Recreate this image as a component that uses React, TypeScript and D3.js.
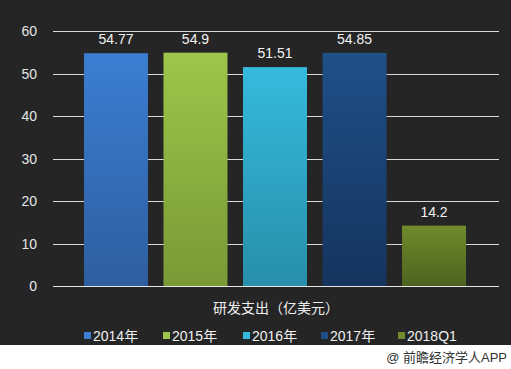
import React, { useEffect, useRef } from "react";
import { select, scaleBand, scaleLinear } from "d3";

const categories = ["2014年", "2015年", "2016年", "2017年", "2018Q1"];
const values = [54.77, 54.9, 51.51, 54.85, 14.2];
const valueLabels = ["54.77", "54.9", "51.51", "54.85", "14.2"];
const yTicks = [0, 10, 20, 30, 40, 50, 60];
const topColors = ["#3b7ed2", "#9dc64a", "#35badd", "#1f4f88", "#6f8b2b"];
const bottomColors = ["#2e5e9f", "#799936", "#278fa9", "#15345e", "#4c6320"];

const width = 511;
const height = 369;
const font = "'Liberation Sans', Arial, 'Noto Sans CJK SC', sans-serif";

export default function App() {
  const svgRef = useRef<SVGSVGElement>(null);

  useEffect(() => {
    const svg = select(svgRef.current);
    svg.selectAll("*").remove();

    const x = scaleBand<string>().domain(categories).range([76, 474]).paddingInner(0.195).paddingOuter(0.1);
    const y = scaleLinear().domain([0, 60]).range([286, 31]);

    const defs = svg.append("defs");
    categories.forEach((c, i) => {
      const g = defs
        .append("linearGradient")
        .attr("id", "grad" + i)
        .attr("x1", 0)
        .attr("y1", 0)
        .attr("x2", 0)
        .attr("y2", 1);
      g.append("stop").attr("offset", "0%").attr("stop-color", topColors[i]);
      g.append("stop").attr("offset", "100%").attr("stop-color", bottomColors[i]);
    });

    // background
    svg.append("rect").attr("width", width).attr("height", height).attr("fill", "#ffffff");
    svg.append("rect").attr("width", width).attr("height", 345).attr("fill", "#252525");

    // grid
    svg
      .append("g")
      .selectAll("line")
      .data(yTicks)
      .join("line")
      .attr("x1", 53)
      .attr("x2", 499)
      .attr("y1", (d) => Math.round(y(d)) + 0.5)
      .attr("y2", (d) => Math.round(y(d)) + 0.5)
      .attr("stroke", (d) => (d === 0 ? "#e8e8e8" : "#d8d8d8"))
      .attr("stroke-width", 1);

    svg
      .append("g")
      .selectAll("text")
      .data(yTicks)
      .join("text")
      .attr("x", 37)
      .attr("y", (d) => y(d) + 5)
      .attr("text-anchor", "end")
      .attr("fill", "#e6e6e6")
      .attr("font-size", 14)
      .attr("font-family", font)
      .text((d) => d);

    // bars
    const bw = 64;
    const cx = (c: string) => x(c)! + x.bandwidth() / 2;
    svg
      .append("g")
      .selectAll("rect")
      .data(values)
      .join("rect")
      .attr("x", (d, i) => cx(categories[i]) - bw / 2)
      .attr("width", bw)
      .attr("y", (d) => y(d))
      .attr("height", (d) => y(0) - y(d))
      .attr("fill", (d, i) => `url(#grad${i})`);

    svg
      .append("g")
      .selectAll("text")
      .data(values)
      .join("text")
      .attr("x", (d, i) => cx(categories[i]))
      .attr("y", (d) => y(d) - 9)
      .attr("text-anchor", "middle")
      .attr("fill", "#f2f2f2")
      .attr("font-size", 14)
      .attr("font-family", font)
      .text((d, i) => valueLabels[i]);

    // axis title
    svg
      .append("text")
      .attr("x", 276)
      .attr("y", 313)
      .attr("text-anchor", "middle")
      .attr("fill", "#f0f0f0")
      .attr("font-size", 14)
      .attr("font-family", font)
      .text("研发支出（亿美元）");

    // legend
    const legendX = [84, 163, 243, 321, 398];
    const lg = svg.append("g");
    categories.forEach((c, i) => {
      lg.append("rect")
        .attr("x", legendX[i])
        .attr("y", 332)
        .attr("width", 7)
        .attr("height", 7)
        .attr("fill", topColors[i]);
      lg.append("text")
        .attr("x", legendX[i] + 9)
        .attr("y", 341)
        .attr("fill", "#f0f0f0")
        .attr("font-size", 14)
        .attr("font-family", font)
        .text(c);
    });

    svg
      .append("text")
      .attr("x", 507)
      .attr("y", 362)
      .attr("text-anchor", "end")
      .attr("fill", "#333333")
      .attr("font-size", 13)
      .attr("font-family", font)
      .text("@ 前瞻经济学人APP");
  }, []);

  return (
    <svg
      ref={svgRef}
      width={width}
      height={height}
      style={{ position: "absolute", left: 0, top: 0, display: "block" }}
    />
  );
}
